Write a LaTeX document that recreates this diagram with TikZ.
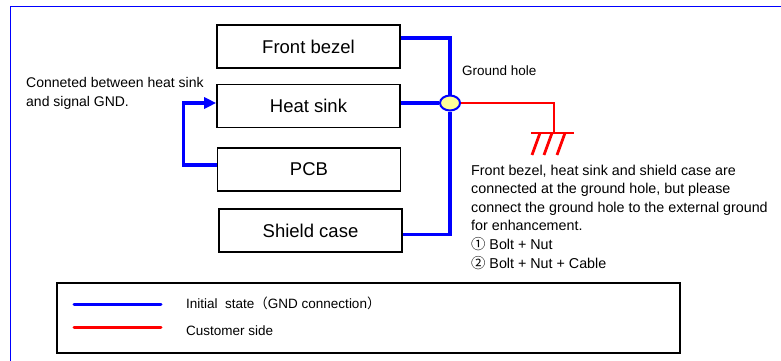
\documentclass[tikz,border=0pt]{standalone}
\usepackage{fontspec}
\setmainfont{Liberation Sans}
\newfontfamily\cjk{Noto Sans CJK JP}
\usetikzlibrary{arrows.meta, positioning, shapes.geometric}
\definecolor{gndblau}{HTML}{0000FF}
\definecolor{gndrot}{HTML}{FF0000}
\definecolor{lochgelb}{HTML}{FFFF99}

\begin{document}
\begin{tikzpicture}[x=1pt, y=-1pt,
    part/.style={draw, line width=1.6pt, minimum width=183pt, minimum height=43pt,
                 font=\fontsize{18.5}{22}\selectfont},
    wire/.style={gndblau, line width=3.5pt},
    cust/.style={gndrot, line width=2.8pt},
    note/.style={font=\fontsize{13.5}{18.6}\selectfont, align=left, inner sep=0pt}]
  \useasboundingbox (0,0) rectangle (781,361);
  % frame
  \draw[gndblau, line width=1pt] (10,361) -- (10,7) -- (781,7);
  % parts
  \node[part] (bezel)  at (308.5,46.5) {Front bezel};
  \node[part] (heat)   at (308.5,106)  {Heat sink};
  \node[part] (pcb)    at (309,169.5)  {PCB};
  \node[part] (shield) at (310.5,230.5) {Shield case};
  % ground hole
  \node[ellipse, draw=gndblau, fill=lochgelb, line width=2pt, inner sep=0pt,
        minimum width=20pt, minimum height=15pt] (hole) at (450,103) {};
  \node[note, anchor=base west] (holelabel) at (462,75) {Ground hole};
  \draw[wire] ([yshift=8.5pt]bezel.east) -| (hole.north);
  \draw[wire] (heat.east |- hole) -- (hole.west);
  \draw[wire] (hole.south) |- ([yshift=-4pt]shield.east);
  \draw[wire, -{Triangle[length=12pt, width=11pt]}]
    ([yshift=4.5pt]pcb.west) -- ++(-33,0) |- ([yshift=3pt]heat.west);
  % last line sits on the given base
  \node[note, anchor=base west, font=\fontsize{14}{19}\selectfont] (signal) at (26,106)
    {Conneted between heat sink\\and signal GND.};
  % customer ground
  \coordinate (gnd) at (554,133);
  \draw[cust] (hole.east) -| (gnd);
  \draw[cust] ([xshift=-23pt]gnd) -- ([xshift=20pt]gnd);
  \foreach \dx in {-14,-2,11}
    \draw[cust] ([xshift=\dx pt]gnd) -- ++(-8,22);
  \node[note, anchor=base west, font=\fontsize{14.3}{18.6}\selectfont] (remark) at (471,268)
    {Front bezel, heat sink and shield case are\\
     connected at the ground hole, but please\\
     connect the ground hole to the external ground\\
     for enhancement.\\
     {\cjk ①} Bolt + Nut\\
     {\cjk ②} Bolt + Nut + Cable};
  % legend
  \node[draw, line width=1.6pt, minimum width=623pt, minimum height=70pt] (legend) at (368.5,318) {};
  \draw[wire, line width=3pt, line cap=round] (74,304) -- (161,304);
  \draw[cust, line width=3pt, line cap=round] (74,327) -- (161,327);
  \node[note, anchor=base west] (initial) at (186,308)
    {Initial\ \ state{\cjk （}GND connection{\cjk ）}};
  \node[note, anchor=base west] (customer) at (186,335) {Customer side};
\end{tikzpicture}
\end{document}
